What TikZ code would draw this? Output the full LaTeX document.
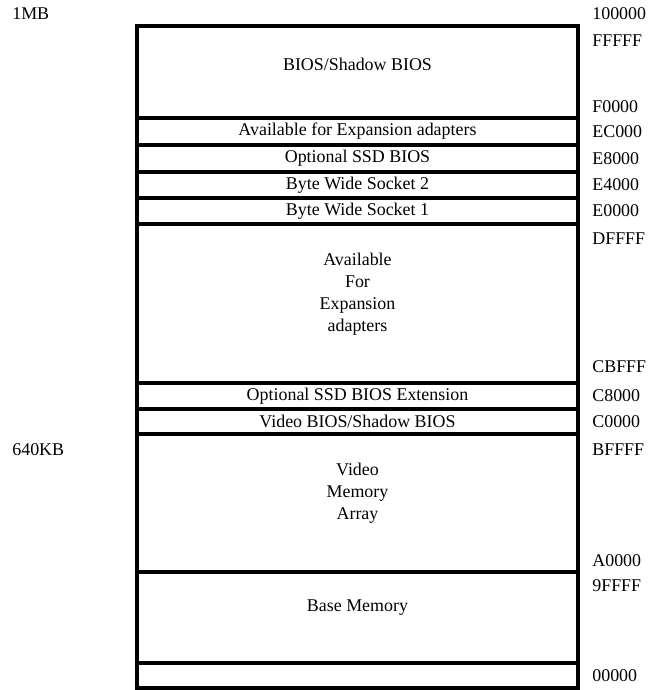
\documentclass[tikz,border=0pt]{standalone}
\usepackage{fontspec}
\setmainfont{Liberation Serif}
\usetikzlibrary{positioning}
\tikzset{
  memrow/.style  = {draw=black, line width=0.08cm, minimum width=8.82cm,
                    inner sep=0pt, outer sep=0pt, align=center,
                    font=\fontsize{10.2}{12.5}\selectfont},
  rowtext/.style = {align=center, inner sep=0pt,
                    font=\fontsize{10.2}{12.5}\selectfont},
  addr/.style    = {anchor=west, inner sep=0pt,
                    font=\fontsize{10.2}{12.5}\selectfont},
}

\begin{document}
\begin{tikzpicture}[x=0.02cm,y=-0.02cm]
  \useasboundingbox (0,0) rectangle (650,690);
  % memory map, top to bottom
  \node[memrow,minimum height=1.84cm] (bios) at (357.5,72) {};
  \node[memrow,minimum height=0.54cm,below=0pt of bios] (expsmall)
    {Available for Expansion adapters};
  \node[memrow,minimum height=0.54cm,below=0pt of expsmall] (ssd)
    {Optional SSD BIOS};
  \node[memrow,minimum height=0.52cm,below=0pt of ssd] (bws2)
    {Byte Wide Socket 2};
  \node[memrow,minimum height=0.52cm,below=0pt of bws2] (bws1)
    {Byte Wide Socket 1};
  \node[memrow,minimum height=3.18cm,below=0pt of bws1] (expbig) {};
  \node[memrow,minimum height=0.52cm,below=0pt of expbig] (ssdext)
    {Optional SSD BIOS Extension};
  \node[memrow,minimum height=0.50cm,below=0pt of ssdext] (vbios)
    {Video BIOS/Shadow BIOS};
  \node[memrow,minimum height=2.76cm,below=0pt of vbios] (vmem) {};
  \node[memrow,minimum height=1.82cm,below=0pt of vmem] (base) {};
  \node[memrow,minimum height=0.50cm,below=0pt of base] (low) {};

  % texts of the big blocks
  \node[rowtext] (biostext) at (357.5,64) {BIOS/Shadow BIOS};
  \node[rowtext] (exptext) at (357.5,294.5) {Available\\For\\Expansion\\adapters};
  \node[rowtext] (vmemtext) at (357.5,493.5) {Video\\Memory\\Array};
  \node[rowtext] (basetext) at (357.5,608) {Base Memory};

  % sizes on the left
  \node[addr] (mb) at (12,14) {1MB};
  \node[addr] (kb) at (12,450) {640KB};

  % addresses on the right
  \foreach \a/\y in {100000/14, FFFFF/41, F0000/107, EC000/131.5, E8000/158.5,
                     E4000/185, E0000/211, DFFFF/239, CBFFF/367, C8000/396,
                     C0000/422, BFFFF/450, A0000/561, 9FFFF/586, 00000/676}
    \node[addr] (a\a) at (592,\y) {\a};
\end{tikzpicture}
\end{document}
